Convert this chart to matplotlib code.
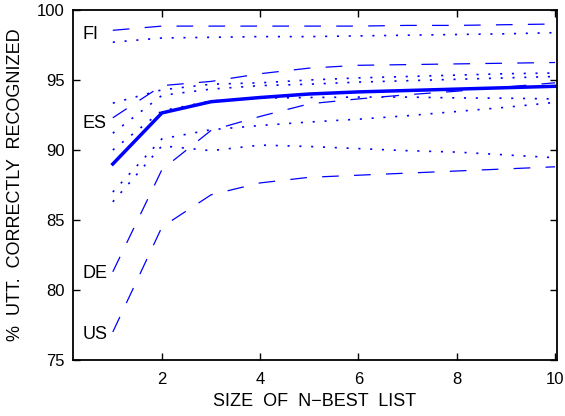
import matplotlib
matplotlib.use("Agg")
import matplotlib.pyplot as plt

plt.rcParams['font.family'] = ['Liberation Sans', 'DejaVu Sans']
plt.rcParams['lines.scale_dashes'] = False

# N-best list sizes
n_best = [1, 2, 3, 4, 5, 6, 7, 8, 9, 10]

# average over languages (bold line)
avg = [89.0, 92.65, 93.45, 93.75, 94.0, 94.15, 94.25, 94.35, 94.45, 94.55]

# dashed lines, one per language
fi_dash = [98.55, 98.85, 98.85, 98.85, 98.85, 98.85, 98.9, 98.9, 98.95, 99.0]
es_dash = [92.3, 94.6, 94.9, 95.45, 95.85, 96.05, 96.1, 96.15, 96.2, 96.25]
de_dash = [81.3, 88.6, 91.4, 92.4, 93.3, 93.65, 93.95, 94.2, 94.5, 94.8]
us_dash = [77.0, 84.5, 86.8, 87.65, 88.05, 88.2, 88.35, 88.5, 88.65, 88.8]

# dotted lines
fi_dot = [97.7, 98.0, 98.05, 98.1, 98.1, 98.15, 98.2, 98.25, 98.3, 98.38]
dot_a = [93.35, 94.3, 94.7, 94.8, 95.0, 95.15, 95.25, 95.35, 95.45, 95.5]
dot_b = [91.2, 93.9, 94.35, 94.6, 94.7, 94.85, 94.95, 95.05, 95.15, 95.25]
dot_c = [90.0, 92.8, 93.5, 93.7, 93.75, 93.78, 93.78, 93.72, 93.7, 93.65]
dot_d = [87.0, 90.8, 91.45, 91.75, 92.0, 92.2, 92.45, 92.75, 93.05, 93.4]
dot_e = [86.3, 90.3, 89.95, 90.35, 90.25, 90.1, 89.95, 89.85, 89.65, 89.45]

lang_labels = ['FI', 'ES', 'DE', 'US']
lang_label_y = [98.26, 91.9, 81.2, 76.8]

fig = plt.figure(figsize=(5.65, 4.16), dpi=100)
ax = fig.add_axes([73/565, 56/416, 484/565, 350/416])

dash = (0, (12, 11))
dot = (0, (1.5, 7))
blue = '#0000ff'

for ys in [fi_dash, es_dash, de_dash, us_dash]:
    ax.plot(n_best, ys, color=blue, lw=0.9, linestyle=dash)
for ys in [fi_dot, dot_a, dot_b, dot_c, dot_d, dot_e]:
    ax.plot(n_best, ys, color=blue, lw=1.2, linestyle=dot)
ax.plot(n_best, avg, color=blue, lw=2.5, solid_joinstyle='miter')

for lab, y in zip(lang_labels, lang_label_y):
    ax.text(0.39, y, lab, fontsize=13, ha='left', va='center')

ax.set_xlim(0.19, 10.04)
ax.set_ylim(75, 100)
ax.set_xticks([2, 4, 6, 8, 10])
ax.set_yticks([75, 80, 85, 90, 95, 100])
ax.tick_params(direction='in', top=True, right=True, labelsize=12, length=5, width=1)
ax.tick_params(axis='x', pad=9)
ax.tick_params(axis='y', pad=6)
for s in ax.spines.values():
    s.set_linewidth(1.3)

ax.set_xlabel('SIZE  OF  N\u2212BEST  LIST', fontsize=13, labelpad=4)
ax.set_ylabel('%  UTT.  CORRECTLY  RECOGNIZED', fontsize=13, labelpad=9)

fig.savefig('out.png', dpi=100)
